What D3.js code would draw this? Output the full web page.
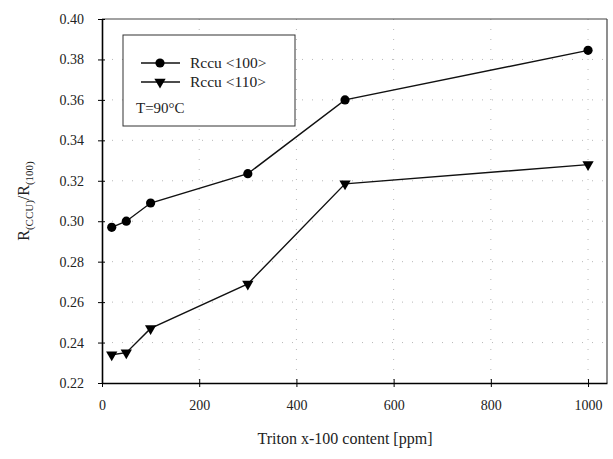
<!DOCTYPE html>
<html lang="en">
<head>
<meta charset="UTF-8">
<script src="https://d3js.org/d3.v7.min.js"></script>
<style>
body {margin: 0; background: white;}
svg {display: block; font-family: "Liberation Serif", "DejaVu Serif", serif;}
.tick text {font-size: 14px; fill: #222;}
</style>
</head>
<body>
<svg width="613" height="459"></svg>
<script>
// data
const ppm = [20, 50, 100, 300, 500, 1000];
const r100 = [0.297, 0.300, 0.309, 0.3235, 0.360, 0.3845];
const r110 = [0.234, 0.235, 0.247, 0.269, 0.3185, 0.328];
const xTicks = [0, 200, 400, 600, 800, 1000];
const yTicks = [0.22, 0.24, 0.26, 0.28, 0.30, 0.32, 0.34, 0.36, 0.38, 0.40];

const svg = d3.select("svg");
const padL = 102, padR = 607, padT = 19, padB = 383;
const serif = "'Liberation Serif', 'DejaVu Serif', serif";

const xs = d3.scaleLinear().domain([0, 1039]).range([padL, padR]);
const ys = d3.scaleLinear().domain([0.22, 0.40]).range([padB, padT]);

// dotted grid, mostly washed out in the scan
const grid = svg.append("g").attr("stroke", "#b8b8b8").attr("stroke-width", 1)
  .attr("stroke-dasharray", "1,9");
grid.selectAll(".hg").data(yTicks.slice(1, -1)).enter().append("line")
  .attr("x1", padL).attr("x2", padR)
  .attr("y1", d => ys(d)).attr("y2", d => ys(d));
grid.selectAll(".vg").data(xTicks.slice(1)).enter().append("line")
  .attr("y1", padT).attr("y2", padB)
  .attr("x1", d => xs(d)).attr("x2", d => xs(d));

// frame top/right
svg.append("line").attr("x1", padL).attr("x2", padR).attr("y1", padT).attr("y2", padT)
  .attr("stroke", "#444").attr("stroke-width", 1.2);
svg.append("line").attr("x1", padR).attr("x2", padR).attr("y1", padT).attr("y2", padB)
  .attr("stroke", "#444").attr("stroke-width", 1.2);

const xAxis = svg.append("g")
  .attr("transform", "translate(0," + padB + ")")
  .call(d3.axisBottom(xs).tickValues(xTicks).tickFormat(d3.format("d")).tickSize(4).tickPadding(13).tickSizeOuter(0));
xAxis.selectAll(".tick line").attr("y1", -4);
xAxis.select(".domain").attr("stroke-width", 1.6);

const yAxis = svg.append("g")
  .attr("transform", "translate(" + padL + ",0)")
  .call(d3.axisLeft(ys).tickValues(yTicks).tickFormat(d3.format(".2f")).tickSize(4).tickPadding(14).tickSizeOuter(0));
yAxis.selectAll(".tick line").attr("x1", 3);
yAxis.select(".domain").attr("stroke-width", 1.6);
xAxis.attr("font-family", serif).attr("font-size", 14);
yAxis.attr("font-family", serif).attr("font-size", 14);

// series
const line = d3.line().x((d, i) => xs(ppm[i])).y(d => ys(d));
svg.append("path").datum(r100).attr("d", line)
  .attr("fill", "none").attr("stroke", "#111").attr("stroke-width", 1.4);
svg.append("path").datum(r110).attr("d", line)
  .attr("fill", "none").attr("stroke", "#111").attr("stroke-width", 1.4);

svg.selectAll(".c").data(r100).enter().append("circle")
  .attr("cx", (d, i) => xs(ppm[i])).attr("cy", d => ys(d)).attr("r", 4.6)
  .attr("fill", "#000");

const tri = d3.symbol().type(d3.symbolTriangle).size(55);
svg.selectAll(".t").data(r110).enter().append("path")
  .attr("d", tri)
  .attr("transform", (d, i) => "translate(" + xs(ppm[i]) + "," + ys(d) + ") rotate(180)")
  .attr("fill", "#000");

// legend
const lg = svg.append("g").attr("font-family", serif);
lg.append("rect").attr("x", 123).attr("y", 35).attr("width", 172).attr("height", 91)
  .attr("fill", "white").attr("stroke", "#333").attr("stroke-width", 1);
lg.append("line").attr("x1", 141).attr("x2", 180).attr("y1", 63).attr("y2", 63)
  .attr("stroke", "#111").attr("stroke-width", 1.4);
lg.append("circle").attr("cx", 160).attr("cy", 63).attr("r", 4.6).attr("fill", "#000");
lg.append("line").attr("x1", 141).attr("x2", 180).attr("y1", 82).attr("y2", 82)
  .attr("stroke", "#111").attr("stroke-width", 1.4);
lg.append("path").attr("d", tri).attr("transform", "translate(160,82) rotate(180)").attr("fill", "#000");
lg.append("text").attr("x", 190).attr("y", 68).attr("font-size", 15.5).attr("fill", "#222").text("Rccu <100>");
lg.append("text").attr("x", 190).attr("y", 87).attr("font-size", 15.5).attr("fill", "#222").text("Rccu <110>");
lg.append("text").attr("x", 136).attr("y", 113).attr("font-size", 15).attr("fill", "#222").text("T=90°C");

// axis titles
svg.append("text").attr("x", 345).attr("y", 444).attr("text-anchor", "middle")
  .attr("font-family", serif).attr("font-size", 16).attr("fill", "#222").text("Triton x-100 content [ppm]");

const yl = svg.append("text").attr("text-anchor", "middle").attr("font-family", serif)
  .attr("font-size", 16).attr("fill", "#222")
  .attr("transform", "translate(29,201) rotate(-90)");
yl.append("tspan").text("R");
yl.append("tspan").attr("font-size", 11).attr("dy", 4).text("(CCU)");
yl.append("tspan").attr("dy", -4).text("/R");
yl.append("tspan").attr("font-size", 11).attr("dy", 4).text("(100)");
</script>
</body>
</html>
